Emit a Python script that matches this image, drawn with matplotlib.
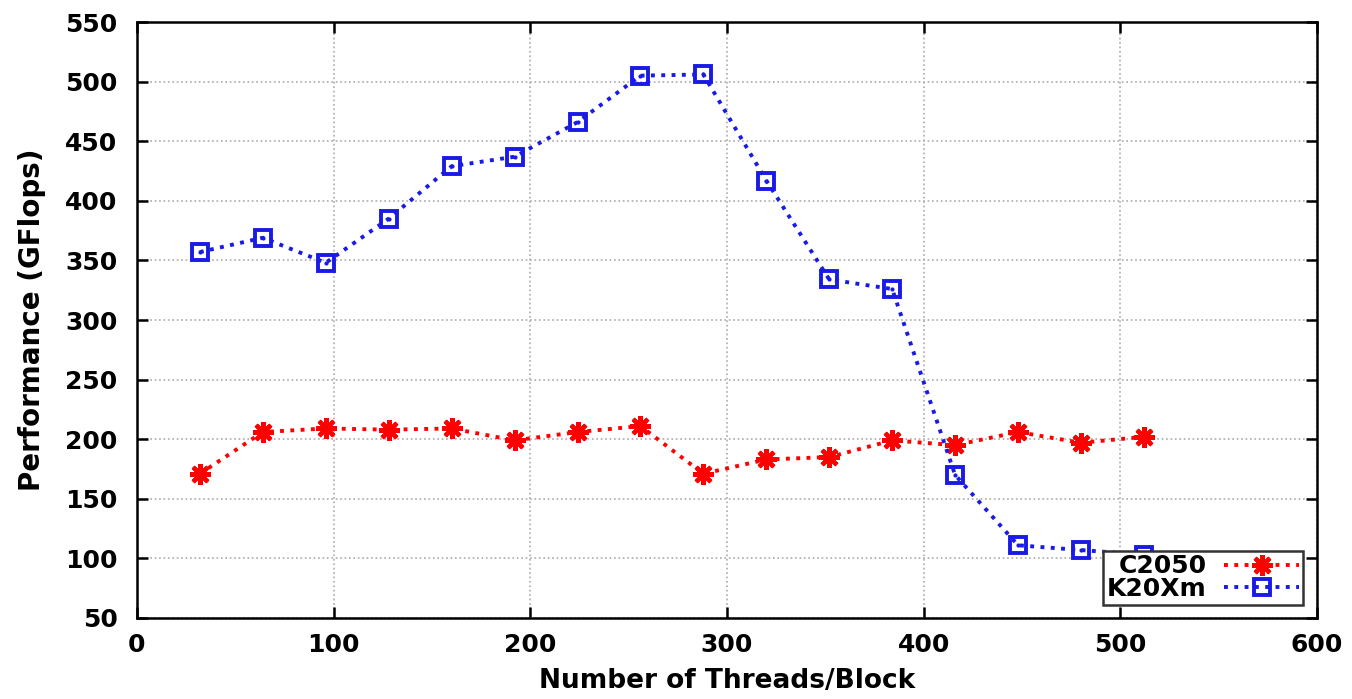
import matplotlib.pyplot as plt
import numpy as np

threads = [32, 64, 96, 128, 160, 192, 224, 256, 288, 320, 352, 384, 416, 448, 480, 512]
c2050 = [171, 206, 209, 208, 209, 199, 206, 211, 171, 183, 185, 199, 195, 206, 197, 202]
k20xm = [357, 369, 348, 385, 429, 437, 466, 505, 506, 417, 334, 326, 170, 111, 107, 103]

plt.rcParams['font.family'] = 'DejaVu Sans'

fig = plt.figure(figsize=(13.52, 6.99), dpi=100)
ax = fig.add_axes([0.1013, 0.1159, 0.8728, 0.8526])

blue = '#1a1ae6'
ax.plot(threads, c2050, color='red', linestyle=':', linewidth=2.8,
        marker=(8, 2, 0), markersize=15, markeredgewidth=3, label='C2050')
ax.plot(threads, k20xm, color=blue, linestyle=':', linewidth=2.8,
        marker='s', markersize=12, markerfacecolor='none', markeredgewidth=2.8,
        label='K20Xm')
# small dot inside the squares
ax.plot(threads, k20xm, linestyle='none', marker='.', markersize=4, color=blue)

ax.set_xlim(0, 600)
ax.set_ylim(50, 550)
ax.set_xticks(np.arange(0, 601, 100))
ax.set_yticks(np.arange(50, 551, 50))
ax.grid(True, linestyle=':', color='#aaaaaa', linewidth=1.2)
ax.tick_params(direction='in', top=True, right=True, length=8, width=1.8,
               labelsize=18)
ax.tick_params(axis='x', pad=11)
ax.tick_params(axis='y', pad=14)
for lab in ax.get_xticklabels() + ax.get_yticklabels():
    lab.set_fontweight('bold')
for s in ax.spines.values():
    s.set_linewidth(1.8)

ax.set_xlabel('Number of Threads/Block', fontsize=19, fontweight='bold', labelpad=8)
ax.set_ylabel('Performance (GFlops)', fontsize=20, fontweight='bold', labelpad=14)

leg = ax.legend(loc='lower right', markerfirst=False, fancybox=False,
                edgecolor='#333333', framealpha=1,
                prop={'weight': 'bold', 'size': 18}, borderpad=0.15,
                handlelength=3.0, handletextpad=0.7, labelspacing=-0.05,
                borderaxespad=0, bbox_to_anchor=(0.988, 0.022))
leg.get_frame().set_linewidth(1.8)

fig.savefig('out.png', dpi=100)
